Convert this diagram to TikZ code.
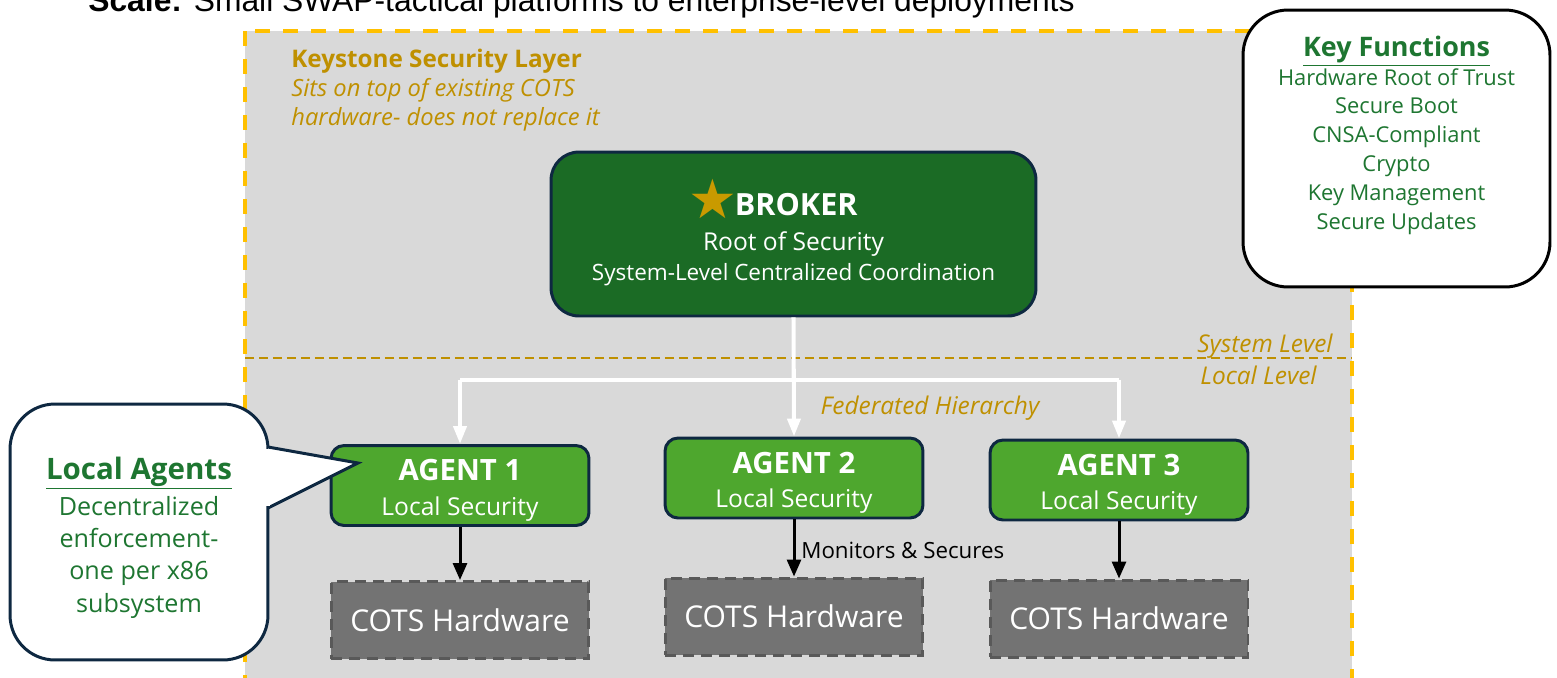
\documentclass[tikz,border=0pt]{standalone}
\usepackage{fontspec}
\setmainfont{Open Sans}
\newfontfamily\scalefont{Liberation Sans}
\newfontfamily\symbolfont{DejaVu Sans}
\usetikzlibrary{arrows.meta}

\definecolor{panelgray}{HTML}{D9D9D9}
\definecolor{layergold}{HTML}{FFC000}
\definecolor{textgold}{HTML}{BF9000}
\definecolor{stargold}{HTML}{C99A00}
\definecolor{brokergreen}{HTML}{1B6B25}
\definecolor{agentgreen}{HTML}{4EA72E}
\definecolor{edgenavy}{HTML}{0E2841}
\definecolor{notegreen}{HTML}{1E7631}
\definecolor{cotsfill}{HTML}{737373}
\definecolor{cotsedge}{HTML}{595959}

\newcommand{\setsize}[2]{\fontsize{#1pt}{#2pt}\selectfont}
% agent label, strut pushes the two lines a little lower in the box
\newcommand{\agentlabel}[1]{\rule{0pt}{17.6pt}{\bfseries\setsize{16.7}{20}AGENT #1}\\Local Security}

\tikzset{
	layer/.style={fill=panelgray, draw=layergold, line width=2.3pt, dash pattern=on 0.3cm off 0.26cm},
	levelline/.style={draw=textgold, line width=1.1pt, dash pattern=on 0.18cm off 0.1cm},
	box/.style={draw=edgenavy, line width=1.7pt, align=center, text=white, inner sep=0pt},
	broker/.style={box, fill=brokergreen, rounded corners=0.56cm, minimum width=9.7cm, minimum height=3.28cm, font=\setsize{12.8}{17}},
	agent/.style={box, fill=agentgreen, rounded corners=0.26cm, minimum width=5.16cm, minimum height=1.6cm, font=\setsize{14}{19.6}},
	cots/.style={draw=cotsedge, fill=cotsfill, line width=1.7pt, dash pattern=on 0.22cm off 0.14cm, text=white, inner sep=0pt, minimum width=5.16cm, minimum height=1.54cm, font=\setsize{17.1}{20}},
	notebox/.style={fill=white, line width=1.7pt, rounded corners=0.9cm, inner sep=0pt},
	notetext/.style={text=notegreen, align=center, inner sep=0pt},
	goldnote/.style={text=textgold, inner sep=0pt, font=\itshape\setsize{13.9}{16.4}},
	feed/.style={white, line width=2.3pt, -{Triangle[width=0.26cm,length=0.36cm]}},
	monitor/.style={black, line width=1.7pt, -{Triangle[width=0.28cm,length=0.34cm]}},
}

\begin{document}
\begin{tikzpicture}[x=0.02cm, y=-0.02cm]
	\useasboundingbox (0,0) rectangle (1557,677);
	\node[anchor=base west, inner sep=0pt, font=\scalefont\setsize{18.1}{22}] (scale) at (88,11) {\textbf{Scale:} Small SWAP-tactical platforms to enterprise-level deployments};

	% Security layer and level split:
	\draw[layer] (245,31) rectangle (1352,700);
	\draw[levelline] (245,358) -- (1352,358);
	\node[anchor=west, align=left, text=textgold, inner sep=0pt, font=\setsize{13.5}{16.4}] (keystone) at (291,90) {{\bfseries\setsize{13.8}{16.4}Keystone Security Layer}\\\itshape Sits on top of existing COTS\\\itshape hardware- does not replace it};
	\node[goldnote, anchor=east] (syslevel) at (1333,346) {System Level};
	\node[goldnote, anchor=east] (loclevel) at (1317,375) {Local Level};

	% Broker, agents and hardware:
	\node[broker] (broker) at (793.5,234) {\rule{0pt}{18.7pt}\smash{\symbolfont\color{stargold}\setsize{31}{31}\raisebox{-2pt}{★}}\hspace{-1.3pt}{\bfseries\setsize{17.4}{20}BROKER}\hspace*{23.4pt}\\[2.8pt]{\setsize{14}{17}Root of Security}\\System-Level Centralized Coordination};
	\node[agent] (agent1) at (460,485.5) {\agentlabel{1}};
	\node[agent] (agent2) at (794,478) {\agentlabel{2}};
	\node[agent] (agent3) at (1119,480) {\agentlabel{3}};
	\node[cots] (cots1) at (460,620) {COTS Hardware};
	\node[cots] (cots2) at (794,616.5) {COTS Hardware};
	\node[cots] (cots3) at (1119,618.5) {COTS Hardware};

	% Federated links:
	\coordinate (split) at (794,380);
	\draw[white, line width=2.3pt] (split -| agent1.north) -- (split -| agent3.north);
	\draw[feed] (broker.south) -- (agent2.north);
	\draw[feed] (split -| agent1.north) -- (agent1.north);
	\draw[feed] (split -| agent3.north) -- (agent3.north);
	\node[goldnote] (federated) at (930,408) {Federated Hierarchy};

	\draw[monitor] (agent1.south) -- (cots1.north);
	\draw[monitor] (agent2.south) -- (cots2.north);
	\draw[monitor] (agent3.south) -- (cots3.north);
	\node[anchor=west, inner sep=0pt, font=\setsize{12.7}{16}] (monitors) at (801,550) {Monitors \& Secures};

	% Key functions box:
	\node[notebox, draw=black, minimum width=6.14cm, minimum height=5.54cm] (keyfn) at (1396.5,148.5) {};
	\node[notetext, anchor=north, font=\setsize{12.45}{16.4}] (keylist) at ([yshift=-0.54cm]keyfn.north) {{\bfseries\setsize{15.3}{18}\underline{Key Functions}}\\Hardware Root of Trust\\Secure Boot\\CNSA-Compliant\\Crypto\\Key Management\\Secure Updates};

	% Callout for the agents:
	\node[notebox, draw=edgenavy, minimum width=5.16cm, minimum height=5.12cm] (agentnote) at (139,532) {};
	\draw[fill=white, draw=edgenavy, line width=1.7pt, line join=miter] (268,447) -- (358,463) -- (268,508);
	\fill[white] (266,449) rectangle (270,506);
	\node[notetext, font=\setsize{14.3}{18.4}] (agenttext) at ([yshift=-0.11cm]agentnote.center) {{\bfseries\setsize{16.8}{20}\underline{Local Agents}}\\[2pt]Decentralized\\enforcement-\\one per x86\\subsystem};
\end{tikzpicture}
\end{document}
